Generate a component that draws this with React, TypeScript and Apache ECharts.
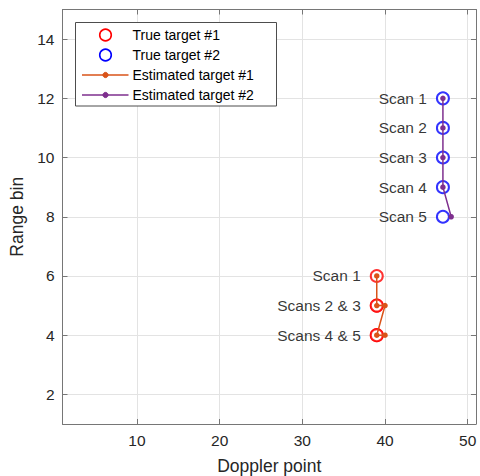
import React, { useEffect, useRef } from "react";
import * as echarts from "echarts";

// Tracking result per scan: true and estimated (Doppler point, range bin)
const scanCount = [1, 2, 3, 4, 5];
const trueT1Doppler = [39, 39, 39, 39, 39];
const trueT1Range = [6, 5, 5, 4, 4];
const trueT2Doppler = [47, 47, 47, 47, 47];
const trueT2Range = [12, 11, 10, 9, 8];
const estT1Doppler = [39, 39, 40, 39, 40];
const estT1Range = [6, 5, 5, 4, 4];
const estT2Doppler = [47, 47, 47, 47, 48];
const estT2Range = [12, 11, 10, 9, 8];
const t1Labels = ["Scan 1", "Scans 2 & 3", "", "Scans 4 & 5", ""];
const t2Labels = ["Scan 1", "Scan 2", "Scan 3", "Scan 4", "Scan 5"];

const xTicks = [10, 20, 30, 40, 50];
const yTicks = [2, 4, 6, 8, 10, 12, 14];
const xRange = [1, 51];
const yRange = [1, 15];

const legendItems = [
  { name: "True target #1", kind: "circle", color: "#ff0000" },
  { name: "True target #2", kind: "circle", color: "#0000ff" },
  { name: "Estimated target #1", kind: "line", color: "#D95319" },
  { name: "Estimated target #2", kind: "line", color: "#7E2F8E" },
];

const FONT = "'Liberation Sans', Arial, Helvetica, sans-serif";
const AXIS_COLOR = "#767676";
const TEXT_COLOR = "#262626";

function pairs(xs: number[], ys: number[]) {
  return scanCount.map((_, i) => [xs[i], ys[i]]);
}

function buildLegend() {
  const left = 75.5;
  const top = 22.5;
  const Z = 100;
  const elems: any[] = [
    {
      type: "rect",
      z: Z,
      shape: { x: left, y: top, width: 201, height: 83.5 },
      style: { fill: "#ffffff", stroke: "#4d4d4d", lineWidth: 1 },
    },
  ];
  legendItems.forEach((item, i) => {
    const cy = 35 + i * 20;
    const cx = 105.5;
    if (item.kind === "circle") {
      elems.push({
        type: "circle",
        z: Z + 1,
        shape: { cx, cy, r: 5.8 },
        style: { fill: "none", stroke: item.color, lineWidth: 1.6 },
      });
    } else {
      elems.push({
        type: "line",
        z: Z + 1,
        shape: { x1: 82, y1: cy, x2: 128.5, y2: cy },
        style: { stroke: item.color, lineWidth: 1.5 },
      });
      elems.push({
        type: "circle",
        z: Z + 2,
        shape: { cx, cy, r: 2.6 },
        style: { fill: item.color, stroke: item.color },
      });
    }
    elems.push({
      type: "text",
      z: Z + 1,
      x: 132.5,
      y: cy,
      style: {
        text: item.name,
        fill: "#000000",
        font: `14px ${FONT}`,
        verticalAlign: "middle",
        align: "left",
      },
    });
  });
  return elems;
}

export default function App() {
  const ref = useRef<HTMLDivElement>(null);

  useEffect(() => {
    if (!ref.current) return;
    const chart = echarts.init(ref.current, undefined, { renderer: "svg" });

    const boxAxisCommon = {
      axisLine: { show: true, lineStyle: { color: AXIS_COLOR, width: 1 } },
      axisLabel: { show: false },
      splitLine: { show: false },
    };

    const labelStyle = {
      show: true,
      position: "left" as const,
      distance: 9,
      color: "#000000",
      fontFamily: FONT,
      fontSize: 15.5,
    };

    chart.setOption({
      animation: false,
      backgroundColor: "#ffffff",
      grid: {
        left: 62.5,
        right: 4,
        top: 9.5,
        bottom: 52,
        containLabel: false,
        outerBoundsMode: "none",
      },
      xAxis: [
        {
          type: "value",
          position: "bottom",
          min: xRange[0],
          max: xRange[1],
          name: "Doppler point",
          nameLocation: "middle",
          nameGap: 33,
          nameTextStyle: { color: TEXT_COLOR, fontFamily: FONT, fontSize: 17.5 },
          axisLine: { show: true, lineStyle: { color: AXIS_COLOR, width: 1 } },
          axisTick: {
            show: true,
            inside: true,
            length: 5,
            customValues: xTicks,
            lineStyle: { color: AXIS_COLOR },
          },
          axisLabel: {
            customValues: xTicks,
            color: TEXT_COLOR,
            fontFamily: FONT,
            fontSize: 15.5,
            margin: 8,
          },
          splitLine: { show: true, lineStyle: { color: "#e3e3e3", width: 1 } },
        },
        {
          type: "value",
          position: "top",
          min: xRange[0],
          max: xRange[1],
          axisTick: {
            show: true,
            inside: true,
            length: 5,
            customValues: xTicks,
            lineStyle: { color: AXIS_COLOR },
          },
          ...boxAxisCommon,
        },
      ],
      yAxis: [
        {
          type: "value",
          position: "left",
          min: yRange[0],
          max: yRange[1],
          name: "Range bin",
          nameLocation: "middle",
          nameGap: 27,
          nameRotate: 90,
          nameTextStyle: { color: TEXT_COLOR, fontFamily: FONT, fontSize: 17.5 },
          axisLine: { show: true, lineStyle: { color: AXIS_COLOR, width: 1 } },
          axisTick: {
            show: true,
            inside: true,
            length: 5,
            customValues: yTicks,
            lineStyle: { color: AXIS_COLOR },
          },
          axisLabel: {
            customValues: yTicks,
            color: TEXT_COLOR,
            fontFamily: FONT,
            fontSize: 15.5,
            margin: 8,
          },
          splitLine: { show: true, lineStyle: { color: "#e3e3e3", width: 1 } },
        },
        {
          type: "value",
          position: "right",
          min: yRange[0],
          max: yRange[1],
          axisTick: {
            show: true,
            inside: true,
            length: 5,
            customValues: yTicks,
            lineStyle: { color: AXIS_COLOR },
          },
          ...boxAxisCommon,
        },
      ],
      series: [
        {
          name: "True target #1",
          type: "scatter",
          symbol: "emptyCircle",
          symbolSize: 12,
          itemStyle: { color: "#ff0000", borderColor: "#ff0000", borderWidth: 1.8 },
          data: pairs(trueT1Doppler, trueT1Range).map((p, i) => ({
            value: p,
            label: { ...labelStyle, show: t1Labels[i] !== "", formatter: t1Labels[i] },
          })),
        },
        {
          name: "True target #2",
          type: "scatter",
          symbol: "emptyCircle",
          symbolSize: 12,
          itemStyle: { color: "#0000ff", borderColor: "#0000ff", borderWidth: 1.8 },
          data: pairs(trueT2Doppler, trueT2Range).map((p, i) => ({
            value: p,
            label: { ...labelStyle, formatter: t2Labels[i] },
          })),
        },
        {
          name: "Estimated target #1",
          type: "line",
          symbol: "circle",
          symbolSize: 5.5,
          showAllSymbol: true,
          lineStyle: { color: "#D95319", width: 1.5 },
          itemStyle: { color: "#D95319" },
          data: pairs(estT1Doppler, estT1Range),
        },
        {
          name: "Estimated target #2",
          type: "line",
          symbol: "circle",
          symbolSize: 5.5,
          showAllSymbol: true,
          lineStyle: { color: "#7E2F8E", width: 1.5 },
          itemStyle: { color: "#7E2F8E" },
          data: pairs(estT2Doppler, estT2Range),
        },
      ],
      graphic: buildLegend(),
    });

    return () => chart.dispose();
  }, []);

  return (
    <div
      ref={ref}
      style={{ position: "fixed", left: 0, top: 0, width: 480, height: 476 }}
    />
  );
}
